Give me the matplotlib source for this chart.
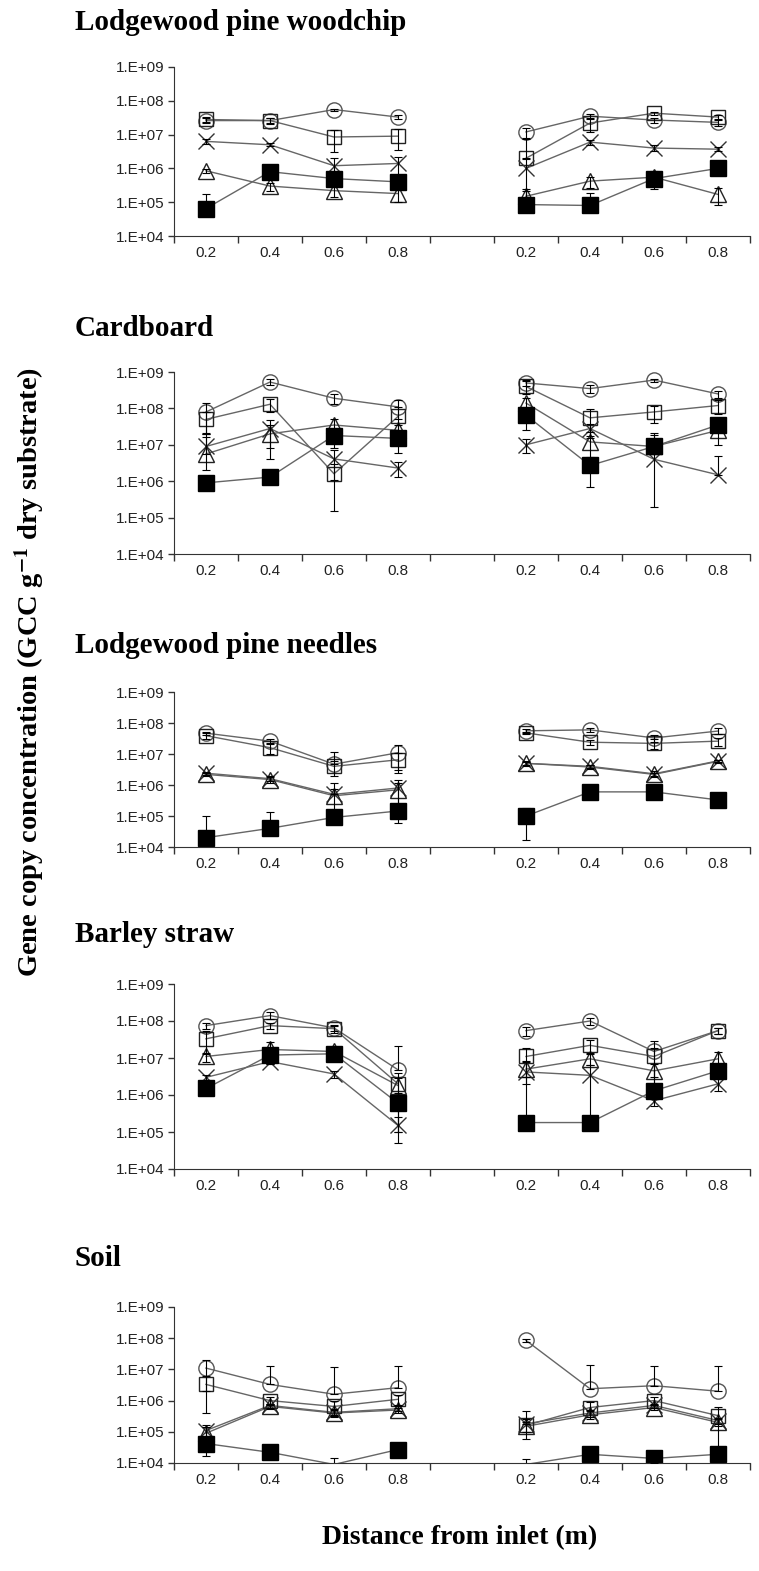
import numpy as np
import matplotlib
matplotlib.use('Agg')
import matplotlib.pyplot as plt

plt.rcParams['mathtext.fontset'] = 'stix'

# ---------------- data ----------------
categories = ['0.2', '0.4', '0.6', '0.8', '', '0.2', '0.4', '0.6', '0.8']
panel_titles = ['Lodgewood pine woodchip', 'Cardboard', 'Lodgewood pine needles',
                'Barley straw', 'Soil']
ytick_values = [1e4, 1e5, 1e6, 1e7, 1e8, 1e9]
ytick_labels = ['1.E+04', '1.E+05', '1.E+06', '1.E+07', '1.E+08', '1.E+09']

# each list: left group 0.2,0.4,0.6,0.8 then right group 0.2,0.4,0.6,0.8
woodchip_circle = [2.6e7, 2.6e7, 5.5e7, 3.3e7, 1.2e7, 3.5e7, 2.7e7, 2.3e7]
woodchip_square = [2.8e7, 2.6e7, 8.5e6, 9e6, 2e6, 2.2e7, 4.3e7, 3.3e7]
woodchip_cross = [6.3e6, 5e6, 1.2e6, 1.4e6, 1e6, 6e6, 4e6, 3.7e6]
woodchip_tri = [8.5e5, 3e5, 2.2e5, 1.8e5, 1.5e5, 4.2e5, 5.5e5, 1.7e5]
woodchip_filled = [6.5e4, 8e5, 5e5, 4e5, 8.5e4, 8e4, 5e5, 1e6]
woodchip_circle_err = [4e6, 4e6, 4e6, 4e6, 4e6, 6e6, 5e6, 5e6]
woodchip_square_err = [5e6, 5e6, 5.5e6, 5.5e6, 5.5e6, 1e7, 5e6, 6e6]
woodchip_cross_err = [1e6, 5e5, 8e5, 8e5, 9.5e5, 1e6, 8e5, 5e5]
woodchip_tri_err = [1e5, 8e4, 8e4, 8e4, 1e5, 1.5e5, 3e5, 9e4]
woodchip_filled_err = [1.15e5, 1e5, 1e5, 1e5, 1.3e5, 1.1e5, 1e5, 1e5]

cardboard_circle = [8e7, 5.3e8, 1.9e8, 1.1e8, 5e8, 3.5e8, 6e8, 2.5e8]
cardboard_square = [5e7, 1.3e8, 1.6e6, 6e7, 4e8, 5.5e7, 8e7, 1.2e8]
cardboard_cross = [9e6, 2.8e7, 4.1e6, 2.3e6, 1e7, 2.8e7, 4e6, 1.5e6]
cardboard_tri = [5.6e6, 2e7, 3.5e7, 2.5e7, 1.4e8, 1.2e7, 9e6, 2.5e7]
cardboard_filled = [9e5, 1.3e6, 1.8e7, 1.5e7, 6.5e7, 2.7e6, 9e6, 3.5e7]
cardboard_circle_err = [6e7, 1e8, 6e7, 6e7, 1e8, 8e7, 6e7, 6e7]
cardboard_square_err = [3e7, 5e7, 1.45e6, 5e7, 1.5e8, 4e7, 4e7, 5e7]
cardboard_cross_err = [7e6, 2e7, 3e6, 1e6, 4e6, 1e7, 3.8e6, 3.5e6]
cardboard_tri_err = [1.5e7, 1.6e7, 1.5e7, 1e7, 5e7, 1e7, 1e7, 1.5e7]
cardboard_filled_err = [1e5, 1e5, 1e7, 9e6, 4e7, 2e6, 1.2e7, 1e7]

needles_circle = [4.7e7, 2.6e7, 4.7e6, 1.1e7, 5.6e7, 6e7, 3.3e7, 5.5e7]
needles_square = [3.9e7, 1.6e7, 4e6, 6.5e6, 4.8e7, 2.4e7, 2.2e7, 2.6e7]
needles_cross = [2.4e6, 1.6e6, 5e5, 8e5, 5e6, 4e6, 2.3e6, 6e6]
needles_tri = [2.2e6, 1.5e6, 4.5e5, 7e5, 5e6, 3.8e6, 2.2e6, 5.8e6]
needles_filled = [2e4, 4e4, 9e4, 1.45e5, 1e5, 6e5, 6e5, 3.3e5]
needles_circle_err = [5e6, 5e6, 7e6, 8e6, 1e7, 1e7, 8e6, 1.2e7]
needles_square_err = [8e6, 6e6, 2e6, 4e6, 5e6, 5e6, 8e6, 8e6]
needles_cross_err = [3e5, 3e5, 7e5, 7e5, 1e6, 5e5, 5e5, 5e5]
needles_tri_err = [3e5, 3e5, 3e5, 5e5, 5e5, 5e5, 3e5, 5e5]
needles_filled_err = [8e4, 9e4, 3e4, 8.5e4, 8.3e4, 5e4, 5e4, 5e4]

barley_circle = [7.5e7, 1.4e8, 6.5e7, 4.8e6, 5.5e7, 1e8, 1.5e7, 5.5e7]
barley_square = [3.3e7, 7.5e7, 6.2e7, 2e6, 1.1e7, 2.2e7, 1.1e7, 5.5e7]
barley_cross = [3e6, 8e6, 3.7e6, 1.5e5, 4.2e6, 3.4e6, 7e5, 2e6]
barley_tri = [1.1e7, 1.7e7, 1.5e7, 1.8e6, 5e6, 9.5e6, 4.5e6, 9.5e6]
barley_filled = [1.5e6, 1.2e7, 1.3e7, 6e5, 1.8e5, 1.8e5, 1.3e6, 4.5e6]
barley_circle_err = [1.5e7, 3e7, 1e7, 1.6e7, 1.5e7, 2e7, 1.3e7, 1e7]
barley_square_err = [2e7, 1.5e7, 1.5e7, 1.9e6, 8e6, 8e6, 8e6, 1e7]
barley_cross_err = [5e5, 1e6, 8e5, 1e5, 4e6, 3.2e6, 2e5, 7e5]
barley_tri_err = [3e6, 1e7, 3e6, 1e6, 3e6, 3e6, 2.5e6, 5e6]
barley_filled_err = [3e5, 3e6, 3e6, 5e5, 5e4, 5e4, 3e5, 1.5e6]

soil_circle = [1.1e7, 3.3e6, 1.6e6, 2.6e6, 8.5e7, 2.4e6, 3e6, 2e6]
soil_square = [3.3e6, 1e6, 6.5e5, 1.1e6, 1.6e5, 6e5, 1e6, 3.3e5]
soil_cross = [1.1e5, 7e5, 4.2e5, 5.5e5, 1.8e5, 4e5, 7e5, 2.3e5]
soil_tri = [9e4, 6.5e5, 4e5, 5e5, 1.5e5, 3.5e5, 6e5, 2e5]
soil_filled = [4.2e4, 2.2e4, 9e3, 2.7e4, 9e3, 1.9e4, 1.4e4, 1.9e4]
soil_circle_err = [9e6, 1e7, 1e7, 1e7, 1e7, 1.1e7, 1e7, 1.1e7]
soil_square_err = [2.9e6, 3e5, 3e5, 4e5, 1e5, 3e5, 3e5, 3e5]
soil_cross_err = [6e4, 1e5, 1e5, 1e5, 3e5, 1e5, 1e5, 5e4]
soil_tri_err = [5e4, 1e5, 1e5, 1e5, 5e4, 1e5, 1e5, 5e4]
soil_filled_err = [2.5e4, 5e3, 5e3, 5e3, 4e3, 4e3, 4e3, 4e3]

panels_values = [
    [woodchip_circle, woodchip_square, woodchip_cross, woodchip_tri, woodchip_filled],
    [cardboard_circle, cardboard_square, cardboard_cross, cardboard_tri, cardboard_filled],
    [needles_circle, needles_square, needles_cross, needles_tri, needles_filled],
    [barley_circle, barley_square, barley_cross, barley_tri, barley_filled],
    [soil_circle, soil_square, soil_cross, soil_tri, soil_filled],
]
panels_errors = [
    [woodchip_circle_err, woodchip_square_err, woodchip_cross_err, woodchip_tri_err, woodchip_filled_err],
    [cardboard_circle_err, cardboard_square_err, cardboard_cross_err, cardboard_tri_err, cardboard_filled_err],
    [needles_circle_err, needles_square_err, needles_cross_err, needles_tri_err, needles_filled_err],
    [barley_circle_err, barley_square_err, barley_cross_err, barley_tri_err, barley_filled_err],
    [soil_circle_err, soil_square_err, soil_cross_err, soil_tri_err, soil_filled_err],
]

# ---------------- styles ----------------
series_styles = [
    dict(marker='o', ms=11, mfc='none', mec='#555555', mew=1.0),
    dict(marker='s', ms=10.5, mfc='none', mec='#222222', mew=1.0),
    dict(marker='x', ms=11, mfc='none', mec='#333333', mew=1.0),
    dict(marker='^', ms=11, mfc='none', mec='#222222', mew=1.0),
    dict(marker='s', ms=11, mfc='black', mec='black', mew=1.0),
]

W, H = 759, 1571
fig = plt.figure(figsize=(W / 100, H / 100), dpi=100)

panel_px = [(67, 236), (372, 554), (692, 847), (984, 1169), (1307, 1463)]
title_y = [22, 328, 646, 935, 1258]
left_px, right_px = 174, 750
YMIN, YMAX = 1e4, 1e9

xpos = np.arange(len(categories))

def to_full(vals):
    v = list(vals)
    return np.array(v[:4] + [np.nan] + v[4:], dtype=float)

for p in range(5):
    top, bot = panel_px[p]
    ax = fig.add_axes([left_px / W, 1 - bot / H, (right_px - left_px) / W, (bot - top) / H])
    ax.set_yscale('log')
    for s in range(5):
        y = to_full(panels_values[p][s])
        e = to_full(panels_errors[p][s])
        # minus bar omitted when it would go below zero (as on a spreadsheet log axis)
        lower = np.where(y - e > 0, e, 0.0)
        ax.plot(xpos, y, color='#666666', lw=1.0, linestyle='-', zorder=2)
        # markers whose value lies below the axis minimum are not drawn
        ym = np.where(y >= YMIN, y, np.nan)
        ax.plot(xpos, ym, linestyle='none', zorder=2.5, **series_styles[s])
        ax.errorbar(xpos, y, yerr=[lower, e], fmt='none', ecolor='black', elinewidth=0.8,
                    capsize=3, capthick=0.8, zorder=3)
    ax.set_ylim(YMIN, YMAX)
    ax.set_xlim(-0.5, 8.5)
    ax.set_yticks(ytick_values)
    ax.set_yticklabels(ytick_labels)
    ax.yaxis.set_minor_locator(matplotlib.ticker.NullLocator())
    ax.set_xticks(np.arange(-0.5, 9.0, 1.0))
    ax.set_xticklabels([])
    ax.set_xticks(xpos, minor=True)
    ax.set_xticklabels(categories, minor=True)
    ax.tick_params(axis='x', which='major', direction='out', length=5, width=1, color='#333333')
    ax.tick_params(axis='x', which='minor', length=0, pad=7, labelsize=11, labelcolor='#222222')
    ax.tick_params(axis='y', which='major', direction='out', length=4, width=1, color='#333333',
                   pad=3, labelsize=11, labelcolor='#222222')
    for lab in ax.get_xticklabels(minor=True) + ax.get_yticklabels():
        lab.set_fontfamily('Liberation Sans')
    ax.spines['top'].set_visible(False)
    ax.spines['right'].set_visible(False)
    ax.spines['left'].set_color('#333333')
    ax.spines['bottom'].set_color('#333333')
    ax.patch.set_alpha(0)

    fig.text(75 / W, 1 - title_y[p] / H, panel_titles[p], fontsize=21, fontweight='bold',
             family='Liberation Serif', ha='left', va='center')

fig.text(30 / W, 1 - 672 / H,
         r'Gene copy concentration (GCC g$^{\mathbf{-1}}$ dry substrate)',
         rotation=90, fontsize=20.5, fontweight='bold', family='Liberation Serif',
         ha='center', va='center')
fig.text(460 / W, 1 - 1538 / H, 'Distance from inlet (m)', fontsize=20, fontweight='bold',
         family='Liberation Serif', ha='center', va='center')

fig.savefig('out.png', dpi=100)
